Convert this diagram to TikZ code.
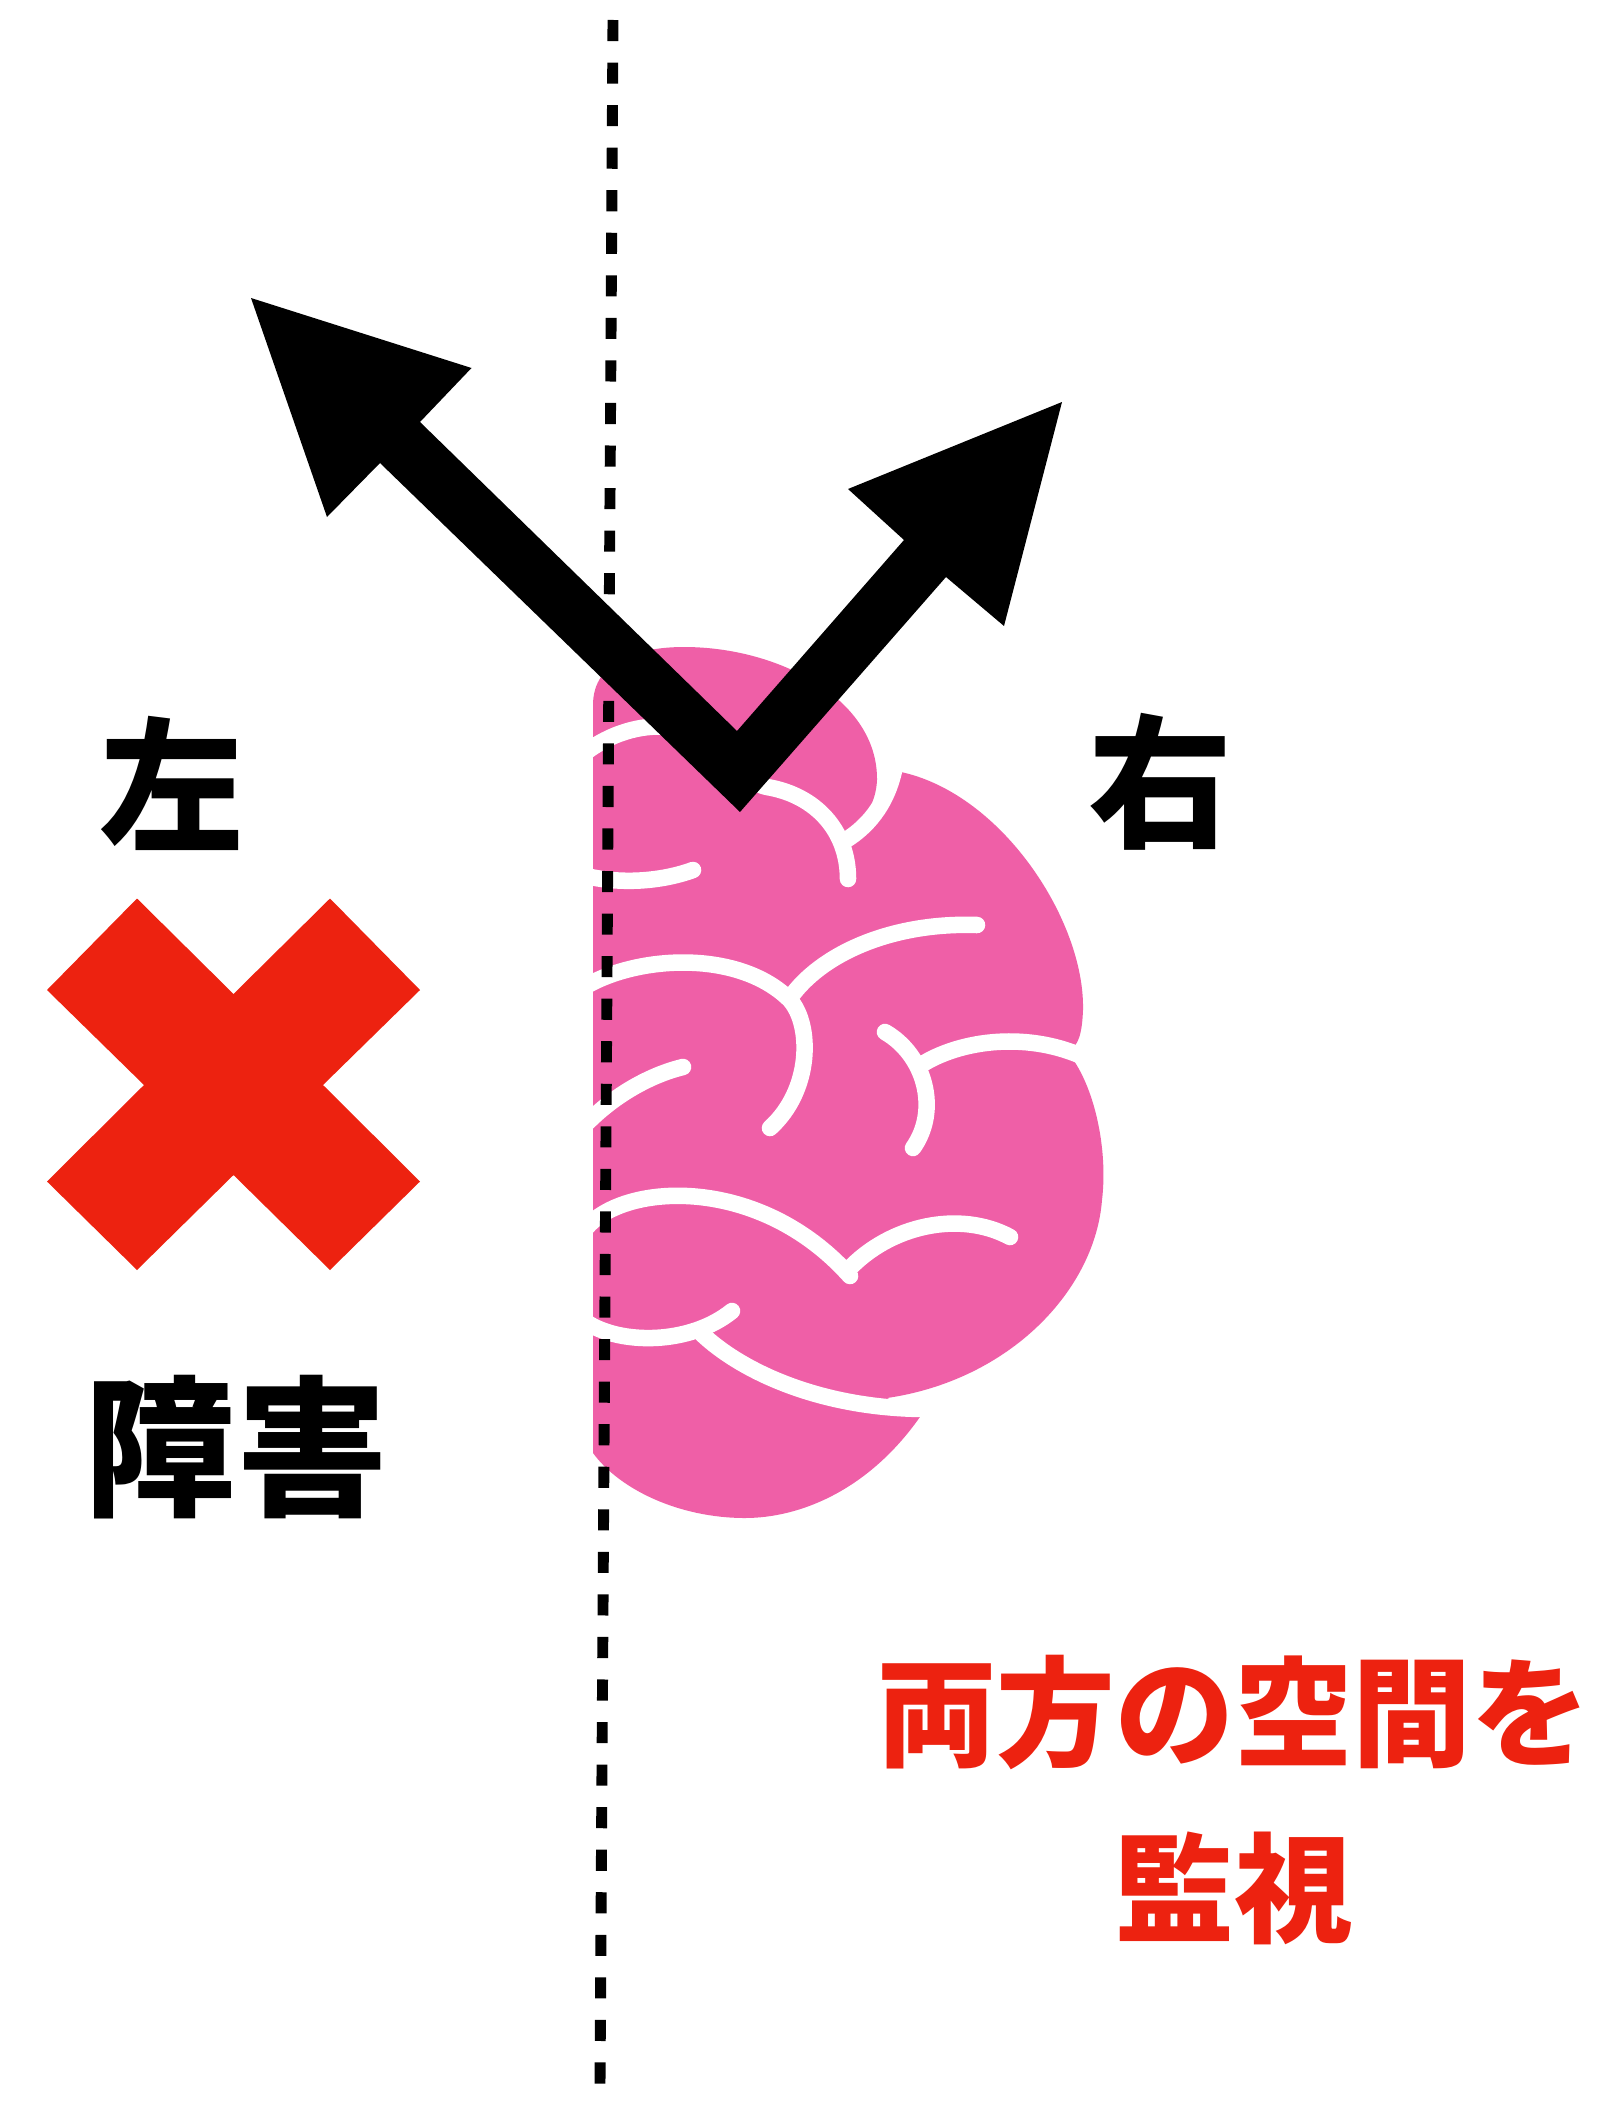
\documentclass[tikz,border=0pt]{standalone}
\usepackage{fontspec}
\newfontfamily\jpfont{Noto Sans CJK JP}
\definecolor{brainpink}{RGB}{239,95,167}
\definecolor{alertred}{RGB}{237,34,16}
\begin{document}
\begin{tikzpicture}[x=0.01cm,y=-0.01cm,
  sulcus/.style={draw=white, line width=4.7pt, line cap=round, line join=round},
  divider/.style={draw=black, line width=3.1pt, dash pattern=on 6pt off 6.1pt},
  sidetxt/.style={inner sep=0pt, font=\jpfont\bfseries\fontsize{41}{41}\selectfont},
  bigtxt/.style={inner sep=0pt, font=\jpfont\bfseries\fontsize{43}{43}\selectfont},
  redtxt/.style={inner sep=0pt, text=alertred, align=center,
                 font=\jpfont\bfseries\fontsize{33.8}{49.8}\selectfont}
]
\useasboundingbox[fill=white] (0,0) rectangle (1612,2103);

% brain silhouette: four lobes, flat left side
\fill[brainpink] (593,1453) -- (593,705)
  .. controls (593,660) and (640,647) .. (684,647)
  .. controls (780,647) and (878,700) .. (877,780)
  .. controls (876,805) and (862,822) .. (850,832)
  -- (847,838) -- (896,771)
  .. controls (1000,790) and (1085,920) .. (1083,1010)
  .. controls (1082,1035) and (1078,1045) .. (1070,1050)
  -- (1065,1056) -- (1072,1058)
  .. controls (1095,1090) and (1108,1150) .. (1102,1200)
  .. controls (1095,1290) and (1010,1380) .. (887,1398)
  -- (922,1414)
  .. controls (870,1490) and (800,1518) .. (745,1518)
  .. controls (680,1518) and (620,1490) .. (593,1453)
  -- cycle;

% sulci
\draw[sulcus] (586,752) .. controls (610,734) and (640,724) .. (670,727)
  .. controls (710,732) and (735,780) .. (767,787)
  .. controls (815,795) and (848,830) .. (848,879);
\draw[sulcus] (846,840) .. controls (870,825) and (890,800) .. (896,760);
\draw[sulcus] (586,876) .. controls (620,884) and (660,882) .. (693,870);
\draw[sulcus] (586,986) .. controls (640,955) and (740,950) .. (790,1000)
  .. controls (812,1025) and (812,1090) .. (770,1128);
\draw[sulcus] (790,998) .. controls (820,955) and (890,922) .. (977,925);
\draw[sulcus] (588,1122) .. controls (615,1095) and (650,1075) .. (683,1067);
\draw[sulcus] (885,1032) .. controls (925,1055) and (940,1110) .. (913,1148);
\draw[sulcus] (921,1065) .. controls (960,1040) and (1030,1030) .. (1090,1060);
\draw[sulcus] (586,1228) .. controls (625,1182) and (760,1175) .. (850,1276);
\draw[sulcus] (848,1270) .. controls (890,1225) and (960,1210) .. (1010,1237);
\draw[sulcus] (586,1322) .. controls (620,1345) and (690,1345) .. (732,1311);
\draw[sulcus] (702,1334) .. controls (740,1370) and (820,1410) .. (932,1409);

% dividing line
\coordinate (divtop) at (613,20);
\coordinate (divbot) at (600,2085);
\draw[divider] (divtop) -- (divbot);

% double arrow
\fill[black] (251,298) -- (471.5,368) -- (420,422) -- (737,731) -- (904,540)
  -- (848,489) -- (1062,402) -- (1004,626) -- (946,577) -- (740,812)
  -- (380,463) -- (327,517) -- cycle;

% red cross
\fill[alertred] (137,898.5) -- (233.5,994) -- (330,898.5) -- (420,990) -- (323,1085)
  -- (420,1181.5) -- (330,1270) -- (233.5,1175) -- (137,1270) -- (47,1181.5)
  -- (144,1085) -- (47,990) -- cycle;

% labels
\node[sidetxt] (left) at (172,783) {左};
\node[sidetxt] (right) at (1161,782) {右};
\node[bigtxt] (fault) at (236,1447) {障害};
\node[redtxt] (watch) at (1234,1800) {両方の空間を\\監視};
\end{tikzpicture}
\end{document}
